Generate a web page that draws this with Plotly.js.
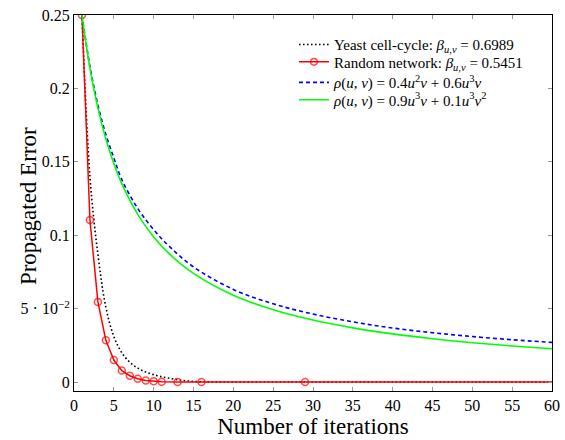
<!DOCTYPE html>
<html>
<head>
<meta charset="utf-8">
<script src="https://cdn.plot.ly/plotly-3.0.1.min.js"></script>
<style>html,body{margin:0;padding:0;background:#fff;}#chart{width:565px;height:440px;}</style>
</head>
<body>
<div id="chart"></div>
<script>
// Yeast cell-cycle (black dotted)
const yeastX = [1,2,3,4,5,6,7,8,9,10,11,12,13,14,15,16,18,20,25,30,40,50,60];
const yeastY = [0.25,0.14,0.087,0.051,0.031,0.020,0.0135,0.0095,0.0068,0.005,0.0036,0.0025,0.0016,0.0009,0.0004,0.0002,0.0001,0,0,0,0,0,0];
// Random network (red, circles)
const randX = [1,2,3,4,5,6,7,8,9,10,11,13,16,29,60];
const randY = [0.25,0.1104,0.0546,0.0284,0.015,0.0078,0.0043,0.0023,0.0011,0.0005,0.0002,0.00005,0.00001,0,0];
const randMarkSize = [7,7,7,7,7,7,7,7,7,7,7,7,7,7,0];
// rho blue dashed and green
const curveX = [1,2,3,4,5,6,8,10,12,15,20,25,30,35,40,45,50,55,60];
const blueY = [0.25,0.215,0.1887,0.1686,0.1527,0.1379,0.1183,0.1038,0.0922,0.0784,0.0631,0.0533,0.0463,0.0410,0.0368,0.0336,0.0310,0.0288,0.0270];
const greenY = [0.25,0.2137,0.1866,0.1656,0.1488,0.1351,0.1142,0.0988,0.0871,0.0740,0.0591,0.0492,0.0422,0.0369,0.0328,0.0295,0.0268,0.0246,0.0227];

const xTicks = [0,5,10,15,20,25,30,35,40,45,50,55,60];
const yTickVals = [0,0.05,0.1,0.15,0.2,0.25];
const yTickText = ['0','5 · 10<sup>−2</sup>','0.1','0.15','0.2','0.25'];

const font = '"Liberation Serif", "DejaVu Serif", serif';

const traces = [
  {x: yeastX, y: yeastY, type: 'scatter', mode: 'lines', line: {color: '#000', width: 1.6, dash: '1.6px,2.4px', shape: 'spline'},
   name: 'Yeast cell-cycle: <i>β</i><sub><i>u,v</i></sub> = 0.6989', legend: 'legend'},
  {x: randX, y: randY, type: 'scatter', mode: 'lines+markers', line: {color: '#ff0000', width: 1.5},
   marker: {symbol: 'circle-open', size: randMarkSize, color: '#ff0000', line: {width: 1.5, color: '#ff0000'}},
   name: 'Random network: <i>β</i><sub><i>u,v</i></sub> = 0.5451', legend: 'legend2'},
  {x: curveX, y: blueY, type: 'scatter', mode: 'lines', line: {color: '#0000ff', width: 1.6, dash: '4px,3px', shape: 'spline'},
   name: '<i>ρ</i>(<i>u</i>, <i>v</i>) = 0.4<i>u</i><sup>2</sup><i>v</i> + 0.6<i>u</i><sup>3</sup><i>v</i>', legend: 'legend3'},
  {x: curveX, y: greenY, type: 'scatter', mode: 'lines', line: {color: '#00ff00', width: 1.6, shape: 'spline'},
   name: '<i>ρ</i>(<i>u</i>, <i>v</i>) = 0.9<i>u</i><sup>3</sup><i>v</i> + 0.1<i>u</i><sup>3</sup><i>v</i><sup>2</sup>', legend: 'legend4'}
];

function leg(y) {
  return {x: 0.4602, y: y, xanchor: 'left', yanchor: 'middle', bgcolor: 'rgba(255,255,255,0)', borderwidth: 0,
          font: {family: font, size: 15, color: '#000'}};
}

const layout = {
  width: 565, height: 440,
  margin: {l: 74, r: 13, t: 15, b: 49},
  paper_bgcolor: '#fff', plot_bgcolor: '#fff',
  font: {family: font, size: 14, color: '#000'},
  showlegend: true,
  legend: leg(0.921), legend2: leg(0.8747), legend3: leg(0.8202), legend4: leg(0.7738),
  xaxis: {range: [0, 60], tickvals: xTicks, ticktext: xTicks.map(String), ticks: 'inside', ticklen: 4, tickcolor: '#999',
          showline: true, linecolor: '#000', linewidth: 1, mirror: 'ticks', showgrid: false, zeroline: false,
          tickfont: {family: font, size: 16},
          title: {text: 'Number of iterations', font: {family: font, size: 23}, standoff: 0}},
  yaxis: {range: [-0.0061, 0.25], tickvals: yTickVals, ticktext: yTickText, ticks: 'inside', ticklen: 4, tickcolor: '#999',
          showline: true, linecolor: '#000', linewidth: 1, mirror: 'ticks', showgrid: false, zeroline: false,
          tickfont: {family: font, size: 16}},
  annotations: [
    {text: 'Propagated Error', xref: 'paper', yref: 'paper', x: -0.0962, y: 0.4918, xanchor: 'center', yanchor: 'middle',
     textangle: -90, showarrow: false, font: {family: font, size: 23, color: '#000'}}
  ]
};

Plotly.newPlot('chart', traces, layout, {displayModeBar: false, staticPlot: true});
</script>
</body>
</html>
